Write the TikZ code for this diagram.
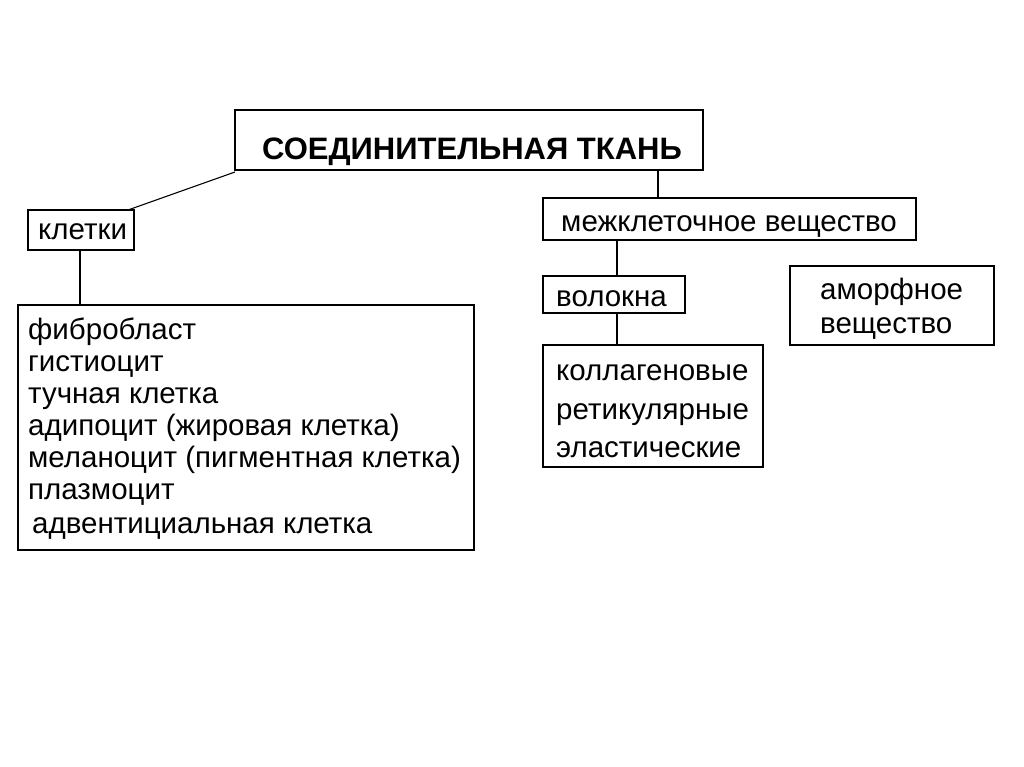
\documentclass[tikz,border=0pt]{standalone}
\usepackage{fontspec}
\setmainfont{Liberation Sans}
\begin{document}
\begin{tikzpicture}[x=1pt,y=-1pt,
  bx/.style={draw,line width=1.3pt,inner sep=0pt},
  ln/.style={line width=1.1pt},
  tx/.style={font=\fontsize{29.5}{29.5}\selectfont,anchor=base west,inner sep=0pt}]
\useasboundingbox (0,0) rectangle (1024,767);
\draw[bx] (235,110) rectangle (703,170);
\node[font=\fontsize{31}{31}\selectfont\bfseries,anchor=base,inner sep=0pt] (t) at (472,160) {СОЕДИНИТЕЛЬНАЯ ТКАНЬ};
\draw[bx] (28,210) rectangle (134,250);
\node[tx] (k) at (38,240) {клетки};
\draw[bx] (18,305) rectangle (474,550);
\node[tx] (l1) at (28,339) {фибробласт};
\node[tx] (l2) at (28,371) {гистиоцит};
\node[tx] (l3) at (28,403) {тучная клетка};
\node[tx] (l4) at (28,435) {адипоцит (жировая клетка)};
\node[tx] (l5) at (28,467) {меланоцит (пигментная клетка)};
\node[tx] (l6) at (28,499) {плазмоцит};
\node[tx] (l7) at (32,533) {адвентициальная клетка};
\draw[bx] (543,198) rectangle (916,240);
\node[tx] (m) at (561,232) {межклеточное вещество};
\draw[bx] (543,276) rectangle (685,313);
\node[tx] (v) at (556,306) {волокна};
\draw[bx] (543,345) rectangle (763,467);
\node[tx] (c1) at (556,380) {коллагеновые};
\node[tx] (c2) at (556,419) {ретикулярные};
\node[tx] (c3) at (556,457) {эластические};
\draw[bx] (790,266) rectangle (994,345);
\node[tx] (a1) at (820,299) {аморфное};
\node[tx] (a2) at (820,333) {вещество};
\draw[ln] (235,172) -- (128,210);
\draw[ln] (80,250) -- (80,305);
\draw[ln] (658,170) -- (658,198);
\draw[ln] (617,240) -- (617,276);
\draw[ln] (617,313) -- (617,345);
\end{tikzpicture}
\end{document}
